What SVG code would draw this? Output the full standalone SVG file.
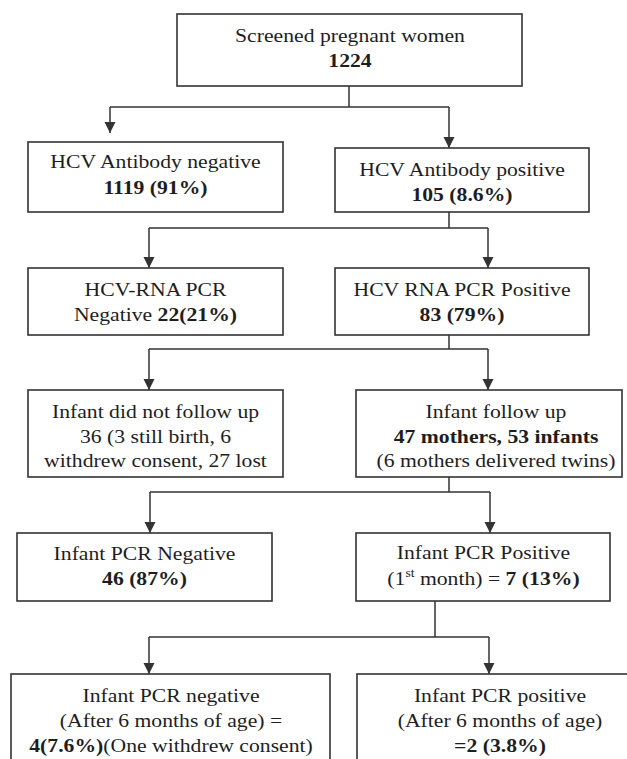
<svg xmlns="http://www.w3.org/2000/svg" width="627" height="759" viewBox="0 0 627 759">
<style>
.box{fill:#fff;stroke:#333;stroke-width:1.6}
text{font-family:"Liberation Serif","Times New Roman",serif;font-size:19.2px;fill:#1e1e1e;text-anchor:middle}
.b{font-weight:bold}
.c{fill:none;stroke:#333;stroke-width:1.5}
</style>
<defs>
<marker id="ar" markerUnits="userSpaceOnUse" markerWidth="11" markerHeight="12" refX="11" refY="5.5" orient="auto">
<path d="M0,0 L11,5.5 L0,11 z" fill="#333"/>
</marker>
</defs>
<rect width="627" height="759" fill="#fff"/>
<g id="connectors">
<path class="c" d="M349,86 V107 M110,107 H449"/>
<path class="c" d="M110,107 V133" marker-end="url(#ar)"/>
<path class="c" d="M449,107 V148" marker-end="url(#ar)"/>
<path class="c" d="M449,212 V228 M149,228 H488"/>
<path class="c" d="M149,228 V268" marker-end="url(#ar)"/>
<path class="c" d="M488,228 V268" marker-end="url(#ar)"/>
<path class="c" d="M449,335 V349 M149,349 H488"/>
<path class="c" d="M149,349 V390" marker-end="url(#ar)"/>
<path class="c" d="M488,349 V390" marker-end="url(#ar)"/>
<path class="c" d="M449,477 V492 M150,492 H490"/>
<path class="c" d="M150,492 V533" marker-end="url(#ar)"/>
<path class="c" d="M490,492 V533" marker-end="url(#ar)"/>
<path class="c" d="M435,601 V637 M149,637 H489"/>
<path class="c" d="M149,637 V674" marker-end="url(#ar)"/>
<path class="c" d="M489,637 V674" marker-end="url(#ar)"/>
</g>
<g id="n1">
<rect class="box" x="177" y="14" width="345" height="72"/>
<text transform="matrix(1.13,0,0,1,350,42)">Screened pregnant women</text>
<text class="b" transform="matrix(1.13,0,0,1,350,67)">1224</text>
</g>
<g id="n2">
<rect class="box" x="28" y="142" width="255" height="70"/>
<text transform="matrix(1.13,0,0,1,155.5,168)">HCV Antibody negative</text>
<text class="b" transform="matrix(1.13,0,0,1,155.5,194)">1119 (91%)</text>
</g>
<g id="n3">
<rect class="box" x="335" y="148" width="254" height="64"/>
<text transform="matrix(1.13,0,0,1,462,176)">HCV Antibody positive</text>
<text class="b" transform="matrix(1.13,0,0,1,462,201)">105 (8.6%)</text>
</g>
<g id="n4">
<rect class="box" x="28" y="268" width="255" height="67"/>
<text transform="matrix(1.13,0,0,1,155.5,296)">HCV-RNA PCR</text>
<text transform="matrix(1.13,0,0,1,155.5,321)">Negative <tspan class="b">22(21%)</tspan></text>
</g>
<g id="n5">
<rect class="box" x="335" y="268" width="254" height="67"/>
<text transform="matrix(1.13,0,0,1,462,296)">HCV RNA PCR Positive</text>
<text class="b" transform="matrix(1.13,0,0,1,462,321)">83 (79%)</text>
</g>
<g id="n6">
<rect class="box" x="28" y="390" width="255" height="87"/>
<text transform="matrix(1.13,0,0,1,155.5,418)">Infant did not follow up</text>
<text transform="matrix(1.13,0,0,1,155.5,443)">36 (3 still birth, 6</text>
<text transform="matrix(1.13,0,0,1,155.5,467)">withdrew consent, 27 lost</text>
</g>
<g id="n7">
<rect class="box" x="356" y="390" width="266" height="87"/>
<text transform="matrix(1.13,0,0,1,496,418)">Infant follow up</text>
<text class="b" transform="matrix(1.13,0,0,1,496,443)">47 mothers, 53 infants</text>
<text transform="matrix(1.13,0,0,1,496,467)">(6 mothers delivered twins)</text>
</g>
<g id="n8">
<rect class="box" x="17" y="533" width="255" height="68"/>
<text transform="matrix(1.13,0,0,1,144.5,560)">Infant PCR Negative</text>
<text class="b" transform="matrix(1.13,0,0,1,144.5,585)">46 (87%)</text>
</g>
<g id="n9">
<rect class="box" x="356" y="533" width="254" height="68"/>
<text transform="matrix(1.13,0,0,1,483.5,559)">Infant PCR Positive</text>
<text transform="matrix(1.13,0,0,1,483.5,585)">(1<tspan font-size="12" dy="-8">st</tspan><tspan dy="8"> month) = </tspan><tspan class="b">7 (13%)</tspan></text>
</g>
<g id="n10">
<rect class="box" x="11" y="674" width="319" height="100"/>
<text transform="matrix(1.13,0,0,1,171,702)">Infant PCR negative</text>
<text transform="matrix(1.13,0,0,1,171,727)">(After 6 months of age) =</text>
<text transform="matrix(1.13,0,0,1,171,752)"><tspan class="b">4(7.6%)</tspan>(One withdrew consent)</text>
</g>
<g id="n11">
<rect class="box" x="357" y="674" width="290" height="100"/>
<text transform="matrix(1.13,0,0,1,500,702)">Infant PCR positive</text>
<text transform="matrix(1.13,0,0,1,500,727)">(After 6 months of age)</text>
<text class="b" transform="matrix(1.13,0,0,1,500,752)">=2 (3.8%)</text>
</g>
</svg>
